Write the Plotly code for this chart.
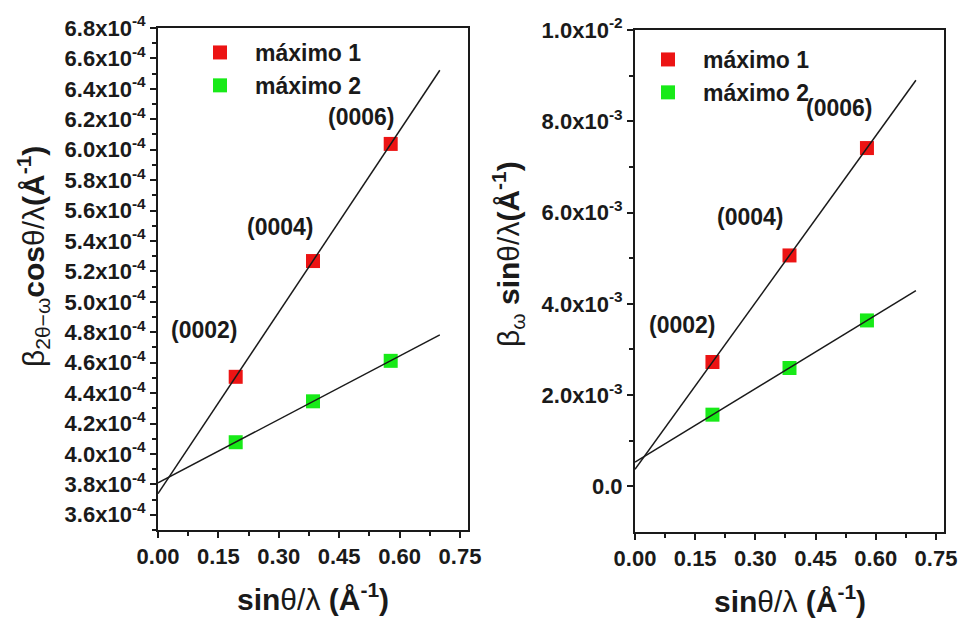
import numpy as np
import plotly.graph_objects as go

# sin(theta)/lambda of the (0002), (0004), (0006) reflections, in 1/Å
s_hkl = [0.193, 0.385, 0.578]
hkl_labels = ["(0002)", "(0004)", "(0006)"]

# beta_(2theta-omega) * cos(theta)/lambda, 1/Å
b2t_max1 = [4.507e-4, 5.268e-4, 6.038e-4]
b2t_max2 = [4.077e-4, 4.346e-4, 4.612e-4]

# beta_omega * sin(theta)/lambda, 1/Å
bw_max1 = [2.725e-3, 5.060e-3, 7.413e-3]
bw_max2 = [1.571e-3, 2.594e-3, 3.636e-3]

series_names = ["máximo 1", "máximo 2"]

# range over which the linear fits are drawn
fit_span = [0.0, 0.70]

# tick labels
x_tickvals = [0.0, 0.15, 0.30, 0.45, 0.60, 0.75]
x_ticktext = ["0.00", "0.15", "0.30", "0.45", "0.60", "0.75"]
x_minorvals = [0.075, 0.225, 0.375, 0.525, 0.675]

left_y_mant = ["3.6", "3.8", "4.0", "4.2", "4.4", "4.6", "4.8", "5.0", "5.2",
               "5.4", "5.6", "5.8", "6.0", "6.2", "6.4", "6.6", "6.8"]
left_ytickvals = [float(m) * 1e-4 for m in left_y_mant]
left_yticktext = [m + "x10<sup>-4</sup>" for m in left_y_mant]
left_yminorvals = [v + 0.1e-4 for v in left_ytickvals[:-1]] + [3.5e-4]

right_ytickvals = [0.0, 2e-3, 4e-3, 6e-3, 8e-3, 1e-2]
right_yticktext = ["0.0", "2.0x10<sup>-3</sup>", "4.0x10<sup>-3</sup>",
                   "6.0x10<sup>-3</sup>", "8.0x10<sup>-3</sup>", "1.0x10<sup>-2</sup>"]
right_yminorvals = [1e-3, 3e-3, 5e-3, 7e-3, 9e-3]

RED = "#ec1414"
GREEN = "#18ea18"
INK = "#1a1a1a"
FONT = "Liberation Sans, Arial, sans-serif"

W, H = 961, 619


def px_dom_x(a, b):
    return [a / W, b / W]


def px_dom_y(top, bottom):
    return [1 - bottom / H, 1 - top / H]


fig = go.Figure()

panels = [
    ("x", "y", "legend", b2t_max1, b2t_max2),
    ("x2", "y2", "legend2", bw_max1, bw_max2),
]

for xa, ya, lg, m1, m2 in panels:
    for name, vals, col in [(series_names[0], m1, RED), (series_names[1], m2, GREEN)]:
        fig.add_trace(go.Scatter(
            x=s_hkl, y=vals, mode="markers", name=name, legend=lg,
            xaxis=xa, yaxis=ya,
            marker=dict(symbol="square", size=14, color=col, line=dict(width=0)),
        ))
    for vals in (m1, m2):
        slope, icpt = np.polyfit(s_hkl, vals, 1)
        fx = np.array(fit_span)
        fig.add_trace(go.Scatter(
            x=fx, y=slope * fx + icpt, mode="lines", showlegend=False,
            xaxis=xa, yaxis=ya, line=dict(color=INK, width=1.5),
        ))

tick_font = dict(family=FONT, size=22, color=INK, weight="bold")

xcommon = dict(
    range=[0, 0.77], tickmode="array", tickvals=x_tickvals, ticktext=x_ticktext,
    ticks="outside", ticklen=6, tickwidth=1.5, tickcolor=INK,
    minor=dict(tickmode="array", tickvals=x_minorvals, ticks="outside",
               ticklen=4, tickwidth=1.5, tickcolor=INK),
    showline=True, linecolor=INK, linewidth=2, mirror=True, automargin=False,
    showgrid=False, zeroline=False, tickfont=tick_font,
)
ycommon = dict(
    ticks="outside", ticklen=6, tickwidth=1.5, tickcolor=INK, automargin=False,
    showline=True, linecolor=INK, linewidth=2, mirror=True,
    showgrid=False, zeroline=False, tickfont=tick_font, tickmode="array",
)

legend_font = dict(family=FONT, size=23, color=INK, weight="bold")

fig.update_layout(
    width=W, height=H,
    margin=dict(l=0, r=0, t=0, b=0),
    paper_bgcolor="white", plot_bgcolor="white",
    font=dict(family=FONT, color=INK),
    xaxis=dict(domain=px_dom_x(158, 468), anchor="y", **xcommon),
    xaxis2=dict(domain=px_dom_x(635, 944), anchor="y2", **xcommon),
    yaxis=dict(domain=px_dom_y(28, 530), anchor="x", range=[3.5e-4, 6.8e-4],
               tickvals=left_ytickvals, ticktext=left_yticktext,
               minor=dict(tickmode="array", tickvals=left_yminorvals, ticks="outside",
                          ticklen=4, tickwidth=1.5, tickcolor=INK),
               **ycommon),
    yaxis2=dict(domain=px_dom_y(30, 532), anchor="x2", range=[-1e-3, 1e-2],
                tickvals=right_ytickvals, ticktext=right_yticktext,
                minor=dict(tickmode="array", tickvals=right_yminorvals, ticks="outside",
                           ticklen=4, tickwidth=1.5, tickcolor=INK),
                **ycommon),
    legend=dict(x=185 / W, y=1 - 31 / H, xanchor="left", yanchor="top",
                bgcolor="rgba(0,0,0,0)", itemwidth=60, font=legend_font),
    legend2=dict(x=633 / W, y=1 - 38 / H, xanchor="left", yanchor="top",
                 bgcolor="rgba(0,0,0,0)", itemwidth=60, font=legend_font),
)

# reflection labels next to the "máximo 1" points
label_shift = {
    "x": [(-32, 47), (-33, 34), (-30, 27)],
    "x2": [(-30, 37), (-40, 38), (-28, 40)],
}
for xa, ya, vals in [("x", "y", b2t_max1), ("x2", "y2", bw_max1)]:
    for (sx, sy), xv, yv, lab in zip(label_shift[xa], s_hkl, vals, hkl_labels):
        fig.add_annotation(
            x=xv, y=yv, xref=xa, yref=ya, text="<b>" + lab + "</b>",
            showarrow=False, xshift=sx, yshift=sy,
            font=dict(family=FONT, size=23, color=INK),
        )

NORM = "<span style='font-weight:normal'>"
xtitle = "<b>sin</b>" + NORM + "θ/λ</span><b> (Å<sup>-1</sup>)</b>"
for cx, cy in ((313, 597), (790, 599)):
    fig.add_annotation(
        x=cx / W, y=1 - cy / H, xref="paper", yref="paper", text=xtitle,
        xanchor="center", yanchor="middle",
        showarrow=False, font=dict(family=FONT, size=30, color=INK),
    )

ytitle_left = (NORM + "β<sub>2θ−ω</sub></span><b>cos</b>" + NORM + "θ/λ</span>"
               "<b>(Å<sup>-1</sup>)</b>")
ytitle_right = (NORM + "β<sub>ω</sub></span><b> sin</b>" + NORM + "θ/λ</span>"
                "<b>(Å<sup>-1</sup>)</b>")
fig.add_annotation(x=33 / W, y=1 - 257 / H, xref="paper", yref="paper",
                   text=ytitle_left, textangle=-90, showarrow=False,
                   xanchor="center", yanchor="middle",
                   font=dict(family=FONT, size=30, color=INK))
fig.add_annotation(x=508 / W, y=1 - 254 / H, xref="paper", yref="paper",
                   text=ytitle_right, textangle=-90, showarrow=False,
                   xanchor="center", yanchor="middle",
                   font=dict(family=FONT, size=30, color=INK))

fig.write_html("out.html")
